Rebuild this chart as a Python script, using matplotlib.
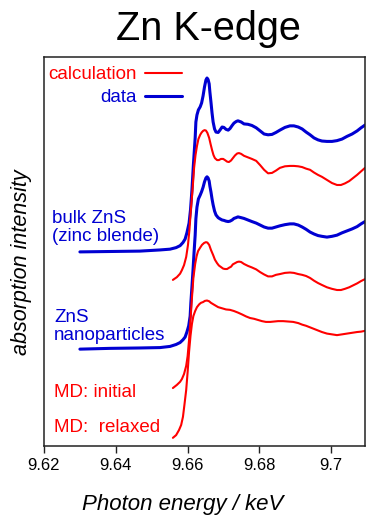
import matplotlib
matplotlib.use('Agg')
import matplotlib.pyplot as plt

plt.rcParams['font.family'] = ['Liberation Sans', 'DejaVu Sans']

RED = '#ff0000'
BLUE = '#0000d2'

# bulk ZnS (zinc blende), measured
bulk_data_e = [9.6300, 9.6384, 9.6467, 9.6523, 9.6551, 9.6568, 9.6579, 9.6587, 9.6593, 9.6598,
               9.6604, 9.6608, 9.6612, 9.6616, 9.6621, 9.6623, 9.6626, 9.6630, 9.6635, 9.6639,
               9.6643, 9.6647, 9.6651, 9.6654, 9.6657, 9.6660, 9.6662, 9.6665, 9.6668, 9.6671,
               9.6675, 9.6679, 9.6685, 9.6690, 9.6696, 9.6701, 9.6707, 9.6713, 9.6718, 9.6724,
               9.6729, 9.6735, 9.6740, 9.6749, 9.6757, 9.6768, 9.6779, 9.6791, 9.6802, 9.6813,
               9.6824, 9.6835, 9.6846, 9.6857, 9.6871, 9.6885, 9.6896, 9.6908, 9.6919, 9.6930,
               9.6941, 9.6952, 9.6963, 9.6974, 9.6988, 9.7002, 9.7016, 9.7030, 9.7044, 9.7058,
               9.7072, 9.7083, 9.7094]
bulk_data_i = [4.99, 5.00, 5.01, 5.04, 5.06, 5.10, 5.15, 5.23, 5.32, 5.48,
               5.73, 6.07, 6.58, 7.22, 7.92, 8.33, 8.51, 8.64, 8.72, 8.82,
               9.00, 9.23, 9.41, 9.46, 9.42, 9.31, 9.10, 8.84, 8.56, 8.33,
               8.15, 8.07, 8.06, 8.12, 8.20, 8.19, 8.14, 8.12, 8.16, 8.24,
               8.30, 8.34, 8.36, 8.33, 8.28, 8.27, 8.24, 8.18, 8.10, 8.02,
               8.00, 8.01, 8.06, 8.12, 8.19, 8.23, 8.23, 8.20, 8.15, 8.07,
               8.00, 7.92, 7.87, 7.84, 7.83, 7.83, 7.85, 7.89, 7.96, 8.02,
               8.10, 8.18, 8.25]

# bulk ZnS, calculation
bulk_calc_e = [9.6559, 9.6570, 9.6579, 9.6584, 9.6590, 9.6596, 9.6601, 9.6605, 9.6609, 9.6614,
               9.6618, 9.6622, 9.6626, 9.6630, 9.6635, 9.6639, 9.6643, 9.6647, 9.6651, 9.6655,
               9.6660, 9.6664, 9.6668, 9.6672, 9.6676, 9.6682, 9.6687, 9.6693, 9.6699, 9.6704,
               9.6710, 9.6715, 9.6721, 9.6726, 9.6732, 9.6738, 9.6743, 9.6749, 9.6757, 9.6768,
               9.6779, 9.6791, 9.6802, 9.6813, 9.6824, 9.6835, 9.6846, 9.6857, 9.6871, 9.6885,
               9.6896, 9.6908, 9.6919, 9.6930, 9.6941, 9.6952, 9.6963, 9.6974, 9.6988, 9.7002,
               9.7016, 9.7027, 9.7038, 9.7050, 9.7061, 9.7072, 9.7083, 9.7094]
bulk_calc_i = [4.27, 4.34, 4.43, 4.52, 4.65, 4.86, 5.17, 5.55, 6.07, 6.63,
               7.15, 7.48, 7.71, 7.89, 8.00, 8.06, 8.10, 8.12, 8.11, 8.05,
               7.92, 7.76, 7.61, 7.48, 7.40, 7.35, 7.35, 7.38, 7.38, 7.35,
               7.31, 7.30, 7.34, 7.40, 7.47, 7.52, 7.53, 7.51, 7.46, 7.42,
               7.38, 7.33, 7.22, 7.10, 7.01, 7.02, 7.08, 7.15, 7.19, 7.20,
               7.20, 7.19, 7.17, 7.13, 7.10, 7.03, 6.97, 6.92, 6.84, 6.76,
               6.71, 6.71, 6.75, 6.81, 6.89, 6.97, 7.06, 7.15]

# ZnS nanoparticles, measured
nano_data_e = [9.6300, 9.6384, 9.6467, 9.6523, 9.6551, 9.6568, 9.6579, 9.6587, 9.6593, 9.6598,
               9.6603, 9.6607, 9.6609, 9.6612, 9.6615, 9.6618, 9.6621, 9.6623, 9.6626, 9.6630,
               9.6635, 9.6639, 9.6643, 9.6647, 9.6651, 9.6654, 9.6657, 9.6660, 9.6662, 9.6665,
               9.6668, 9.6671, 9.6675, 9.6679, 9.6685, 9.6690, 9.6696, 9.6701, 9.6707, 9.6713,
               9.6718, 9.6724, 9.6729, 9.6735, 9.6740, 9.6749, 9.6757, 9.6768, 9.6779, 9.6791,
               9.6802, 9.6813, 9.6824, 9.6835, 9.6846, 9.6857, 9.6871, 9.6885, 9.6896, 9.6908,
               9.6919, 9.6930, 9.6941, 9.6952, 9.6963, 9.6974, 9.6988, 9.7002, 9.7016, 9.7030,
               9.7044, 9.7058, 9.7072, 9.7083, 9.7094]
nano_data_i = [2.49, 2.51, 2.52, 2.53, 2.56, 2.61, 2.66, 2.73, 2.80, 2.93,
               3.09, 3.34, 3.68, 4.09, 4.52, 4.99, 5.42, 5.84, 6.14, 6.35,
               6.45, 6.54, 6.65, 6.79, 6.89, 6.92, 6.89, 6.81, 6.68, 6.53,
               6.35, 6.20, 6.04, 5.94, 5.87, 5.84, 5.81, 5.80, 5.78, 5.77,
               5.78, 5.81, 5.85, 5.87, 5.89, 5.87, 5.85, 5.81, 5.77, 5.73,
               5.68, 5.63, 5.60, 5.60, 5.63, 5.66, 5.69, 5.71, 5.71, 5.68,
               5.63, 5.57, 5.50, 5.45, 5.41, 5.39, 5.37, 5.39, 5.42, 5.48,
               5.53, 5.58, 5.64, 5.71, 5.77]

# MD model, initial structure
md_init_e = [9.6559, 9.6570, 9.6579, 9.6584, 9.6590, 9.6596, 9.6600, 9.6604, 9.6608, 9.6612,
             9.6616, 9.6621, 9.6625, 9.6629, 9.6635, 9.6640, 9.6646, 9.6651, 9.6655, 9.6660,
             9.6665, 9.6671, 9.6676, 9.6682, 9.6687, 9.6693, 9.6699, 9.6704, 9.6710, 9.6715,
             9.6721, 9.6726, 9.6732, 9.6738, 9.6743, 9.6749, 9.6757, 9.6768, 9.6779, 9.6791,
             9.6802, 9.6813, 9.6824, 9.6835, 9.6846, 9.6857, 9.6871, 9.6885, 9.6896, 9.6908,
             9.6919, 9.6930, 9.6941, 9.6952, 9.6963, 9.6974, 9.6988, 9.7002, 9.7016, 9.7027,
             9.7038, 9.7050, 9.7061, 9.7072, 9.7083, 9.7094]
md_init_i = [1.49, 1.57, 1.65, 1.72, 1.85, 2.06, 2.31, 2.73, 3.24, 3.81,
             4.32, 4.68, 4.88, 5.01, 5.10, 5.17, 5.22, 5.24, 5.23, 5.17,
             5.04, 4.91, 4.79, 4.70, 4.64, 4.60, 4.56, 4.55, 4.55, 4.58,
             4.61, 4.67, 4.70, 4.73, 4.74, 4.73, 4.68, 4.63, 4.59, 4.54,
             4.47, 4.41, 4.36, 4.36, 4.40, 4.42, 4.45, 4.46, 4.45, 4.42,
             4.40, 4.37, 4.32, 4.25, 4.19, 4.14, 4.08, 4.04, 4.01, 4.01,
             4.04, 4.08, 4.13, 4.18, 4.24, 4.29]

# MD model, relaxed structure
md_relax_e = [9.6559, 9.6568, 9.6576, 9.6582, 9.6587, 9.6591, 9.6596, 9.6600, 9.6604, 9.6608,
              9.6612, 9.6616, 9.6621, 9.6626, 9.6632, 9.6637, 9.6643, 9.6648, 9.6654, 9.6660,
              9.6665, 9.6674, 9.6685, 9.6696, 9.6707, 9.6718, 9.6729, 9.6740, 9.6752, 9.6763,
              9.6774, 9.6785, 9.6796, 9.6807, 9.6818, 9.6830, 9.6841, 9.6852, 9.6866, 9.6880,
              9.6894, 9.6908, 9.6919, 9.6930, 9.6941, 9.6952, 9.6963, 9.6974, 9.6988, 9.7002,
              9.7016, 9.7030, 9.7044, 9.7058, 9.7072, 9.7083, 9.7094]
md_relax_i = [0.21, 0.28, 0.41, 0.54, 0.75, 1.05, 1.44, 1.90, 2.42, 2.83,
              3.14, 3.34, 3.47, 3.57, 3.64, 3.68, 3.70, 3.73, 3.74, 3.72,
              3.68, 3.63, 3.57, 3.54, 3.51, 3.50, 3.47, 3.43, 3.38, 3.33,
              3.29, 3.27, 3.24, 3.21, 3.19, 3.19, 3.20, 3.21, 3.21, 3.20,
              3.19, 3.16, 3.12, 3.09, 3.05, 3.01, 2.97, 2.93, 2.89, 2.87,
              2.85, 2.87, 2.89, 2.91, 2.93, 2.94, 2.96]

xticks = [9.62, 9.64, 9.66, 9.68, 9.70]
xticklabels = ['9.62', '9.64', '9.66', '9.68', '9.7']

fig = plt.figure(figsize=(3.67, 5.16), dpi=100)
ax = fig.add_axes([44 / 367, 70 / 516, 321 / 367, 389 / 516])

lw_data, lw_calc = 2.2, 1.5
style = dict(solid_joinstyle='round', solid_capstyle='round')
h_data, = ax.plot(bulk_data_e, bulk_data_i, color=BLUE, lw=lw_data, **style)
h_calc, = ax.plot(bulk_calc_e, bulk_calc_i, color=RED, lw=lw_calc, **style)
ax.plot(nano_data_e, nano_data_i, color=BLUE, lw=lw_data, **style)
ax.plot(md_init_e, md_init_i, color=RED, lw=lw_calc, **style)
ax.plot(md_relax_e, md_relax_i, color=RED, lw=lw_calc, **style)

ax.set_xlim(9.62, 9.7094)
ax.set_ylim(0, 10)
ax.set_xticks(xticks)
ax.set_xticklabels(xticklabels, fontsize=12)
ax.set_yticks([])
ax.tick_params(axis='x', direction='out', length=5, width=1, pad=4, color='#222222')
for s in ax.spines.values():
    s.set_linewidth(1.1)
    s.set_color('#222222')

ax.legend([h_calc, h_data], ['calculation', 'data'], loc='upper left',
          bbox_to_anchor=(0.012, 0.977), frameon=False, markerfirst=False,
          fontsize=13.5, handlelength=2.0, handletextpad=0.45, labelspacing=0.32,
          borderpad=0, borderaxespad=0, labelcolor='linecolor')

lab = dict(fontsize=13.5, va='baseline', ha='left')
ax.text(9.6222, 5.73, 'bulk ZnS', color=BLUE, **lab)
ax.text(9.6222, 5.27, '(zinc blende)', color=BLUE, **lab)
ax.text(9.6228, 3.19, 'ZnS', color=BLUE, **lab)
ax.text(9.6228, 2.72, 'nanoparticles', color=BLUE, **lab)
ax.text(9.6228, 1.26, 'MD: initial', color=RED, **lab)
ax.text(9.6228, 0.36, 'MD:  relaxed', color=RED, **lab)

fig.text(208 / 367, 1 - 40 / 516, 'Zn K-edge', ha='center', va='baseline', fontsize=28.5)
fig.text(182.5 / 367, 1 - 510 / 516, 'Photon energy / keV', ha='center', va='baseline',
         fontsize=16, style='italic')
fig.text(22 / 367, 1 - 262 / 516, 'absorption intensity', ha='center', va='center',
         rotation=90, fontsize=15.5, style='italic')

fig.savefig('out.png', dpi=100)
